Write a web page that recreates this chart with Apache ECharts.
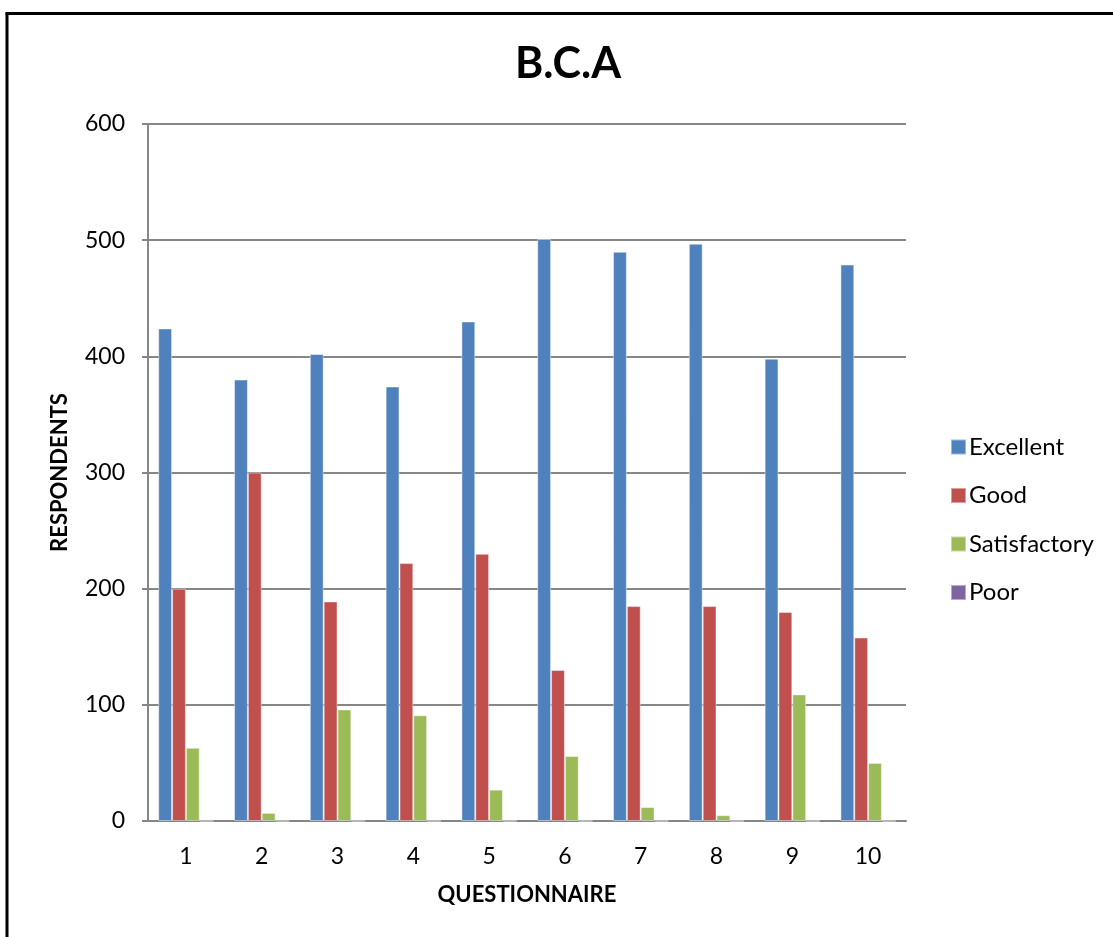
<!DOCTYPE html>
<html>
<head>
<meta charset="utf-8">
<script src="https://cdn.jsdelivr.net/npm/echarts@6/dist/echarts.min.js"></script>
<style>
html,body{margin:0;padding:0;background:#fff;}
#c{width:1113px;height:937px;}
</style>
</head>
<body>
<div id="c"></div>
<script>
const categories = ['1','2','3','4','5','6','7','8','9','10'];
const excellent = [424, 380, 402, 374, 430, 501, 490, 497, 398, 479];
const good = [200, 300, 189, 222, 230, 130, 185, 185, 180, 158];
const satisfactory = [63, 7, 96, 91, 27, 56, 12, 5, 109, 50];
const poor = [0, 0, 0, 0, 0, 0, 0, 0, 0, 0];
const seriesNames = ['Excellent', 'Good', 'Satisfactory', 'Poor'];
const colors = ['#4F81BD', '#C0504D', '#9BBB59', '#8064A2'];

const FONT = 'Lato, "Open Sans", sans-serif';
const chart = echarts.init(document.getElementById('c'), null, {renderer: 'canvas'});
const mk = (name, data, color) => ({
  name: name, type: 'bar', data: data,
  barGap: '0%', barCategoryGap: '27%',
  itemStyle: {color: color, borderColor: 'rgba(255,255,255,0.45)', borderWidth: 1},
  emphasis: {disabled: true}
});
chart.setOption({
  backgroundColor: '#fff',
  animation: false,
  color: colors,
  title: {
    text: 'B.C.A', left: 563, top: 38, textAlign: 'center',
    textStyle: {fontFamily: FONT, fontWeight: 'bold', fontSize: 43, color: '#000'}
  },
  legend: {
    orient: 'vertical', left: 945, top: 430, itemGap: 24.5,
    itemWidth: 15, itemHeight: 15, icon: 'rect',
    textStyle: {fontFamily: FONT, fontSize: 24, color: '#000', padding: [0,0,0,-2]},
    data: seriesNames
  },
  grid: {left: 148, top: 124, right: 207, bottom: 116, containLabel: false},
  xAxis: {
    type: 'category', data: categories,
    name: 'QUESTIONNAIRE', nameLocation: 'middle', nameGap: 63,
    nameTextStyle: {fontFamily: FONT, fontWeight: 'bold', fontSize: 22, color: '#000'},
    axisLine: {lineStyle: {color: '#868686', width: 2}},
    axisTick: {show: false},
    axisLabel: {fontFamily: FONT, fontSize: 23, color: '#000', margin: 24}
  },
  yAxis: {
    type: 'value', min: 0, max: 600, interval: 100,
    name: 'RESPONDENTS', nameLocation: 'middle', nameGap: 77, nameRotate: 90,
    nameTextStyle: {fontFamily: FONT, fontWeight: 'bold', fontSize: 22, color: '#000'},
    axisLine: {show: true, lineStyle: {color: '#868686', width: 2}},
    axisTick: {show: true, length: 6, lineStyle: {color: '#868686', width: 2}},
    axisLabel: {fontFamily: FONT, fontSize: 23, color: '#000', margin: 23},
    splitLine: {lineStyle: {color: '#868686', width: 2}}
  },
  series: [
    mk(seriesNames[0], excellent, colors[0]),
    mk(seriesNames[1], good, colors[1]),
    mk(seriesNames[2], satisfactory, colors[2]),
    mk(seriesNames[3], poor, colors[3])
  ],
  graphic: [
    {type: 'line', shape: {x1: 7, y1: 13, x2: 7, y2: 937}, style: {stroke: '#000', lineWidth: 3}},
    {type: 'line', shape: {x1: 5.5, y1: 13.5, x2: 1113, y2: 13.5}, style: {stroke: '#000', lineWidth: 3}}
  ]
});
</script>
</body>
</html>
